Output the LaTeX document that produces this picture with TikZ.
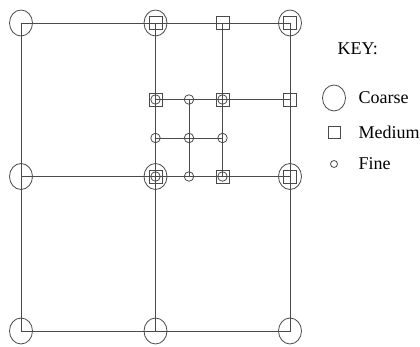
\documentclass[tikz,border=0pt]{standalone}
\usepackage{fontspec}
\setmainfont{Liberation Serif}
\usetikzlibrary{shapes.geometric}
\definecolor{gitter}{HTML}{4A4A4A}

\begin{document}
\begin{tikzpicture}[
    x=1pt, y=-1pt,
    every node/.style={font=\fontsize{18}{20}\selectfont},
    grob/.style={draw=gitter, ellipse, line width=0.8pt, minimum width=23pt, minimum height=26pt, inner sep=0pt},
    mittel/.style={draw=gitter, rectangle, line width=0.8pt, minimum size=13pt, inner sep=0pt},
    fein/.style={draw=gitter, circle, line width=0.8pt, minimum size=9.5pt, inner sep=0pt},
    linie/.style={draw=gitter, line width=0.8pt},
  ]
  \useasboundingbox (0,0) rectangle (420,347);

  % Gitterpunkte
  \foreach \i/\x in {1/21,2/155.5,3/189,4/222.5,5/290}
    \foreach \j/\y in {1/23,2/99.5,3/138,4/176.5,5/331}
      \coordinate (p\i\j) at (\x,\y);

  % Linien: grob, mittel, fein
  \draw[linie] (p11) -- (p51) -- (p55) -- (p15) -- cycle;
  \draw[linie] (p21) -- (p25);
  \draw[linie] (p14) -- (p54);
  \draw[linie] (p41) -- (p44);
  \draw[linie] (p22) -- (p52);
  \draw[linie] (p32) -- (p34);
  \draw[linie] (p23) -- (p43);

  % Knoten
  \foreach \k in {11,21,51,14,24,54,15,25,55}
    \node[grob] (g\k) at (p\k) {};
  \foreach \k in {21,41,51,22,42,52,24,44,54}
    \node[mittel] (m\k) at (p\k) {};
  \foreach \k in {22,32,42,23,33,43,24,34,44}
    \node[fein] (f\k) at (p\k) {};

  % Legende
  \node[anchor=west] (key) at (334,49) {KEY:};
  \node[grob] (kg) at (334,98) {};
  \node[anchor=west] (kgt) at (355,98) {Coarse};
  \node[mittel, minimum size=12pt] (km) at (334,132) {};
  \node[anchor=west] (kmt) at (355,132) {Medium};
  \node[fein, minimum size=7pt] (kf) at (334,164) {};
  \node[anchor=west] (kft) at (355,164) {Fine};
\end{tikzpicture}
\end{document}
